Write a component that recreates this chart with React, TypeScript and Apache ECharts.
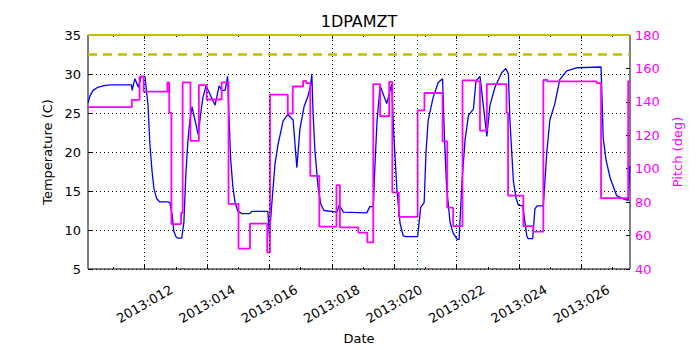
import React, { useEffect, useRef } from "react";
import * as echarts from "echarts";

// Day of year 2013 (fractional) vs temperature (C)
const temperature: [number, number][] = [
  [10.19, 26.3], [10.25, 27.2], [10.35, 27.9], [10.5, 28.3], [10.7, 28.5], [10.9, 28.6],
  [11.58, 28.6], [11.6, 27.9], [11.69, 29.4], [11.8, 28.3], [11.89, 29.7], [12.01, 29.7],
  [12.11, 26], [12.17, 21], [12.24, 17.5], [12.3, 15.3], [12.39, 14], [12.49, 13.6],
  [12.75, 13.6], [12.81, 13.5], [12.88, 12], [12.94, 9.8], [13.01, 9.1], [13.07, 8.95],
  [13.19, 8.95], [13.26, 11], [13.32, 17], [13.39, 21.5], [13.45, 24], [13.52, 25.8],
  [13.72, 22.2], [13.8, 25], [13.87, 27], [13.97, 28.5], [14.26, 26], [14.39, 28.5],
  [14.47, 27.9], [14.58, 27.9], [14.66, 29.7], [14.7, 25], [14.76, 19], [14.83, 15.5],
  [14.9, 13.5], [14.99, 12.4], [15.12, 12.1], [15.37, 12.1], [15.44, 12.4], [15.95, 12.4],
  [16.0, 9.2], [16.09, 14], [16.18, 18.5], [16.28, 21], [16.44, 24], [16.59, 24.8],
  [16.76, 24.1], [16.88, 18], [16.98, 23], [17.11, 25.8], [17.24, 27.2], [17.32, 28.5],
  [17.36, 30], [17.4, 25], [17.46, 20.1], [17.56, 15.5], [17.65, 13.3], [17.75, 12.5],
  [18.16, 12.3], [18.24, 13.2], [18.37, 12.3], [19.12, 12.2], [19.22, 13], [19.33, 13],
  [19.38, 18], [19.45, 24], [19.55, 28.5], [19.76, 26.2], [19.92, 28.7], [19.99, 22],
  [20.09, 15], [20.19, 10.8], [20.29, 9.25], [20.38, 9.15], [20.75, 9.15], [20.85, 12.9],
  [20.96, 13.5], [21.02, 20], [21.09, 24.1], [21.25, 27], [21.41, 28.9], [21.55, 29.4],
  [21.61, 22], [21.68, 15.5], [21.79, 11], [21.89, 9.6], [22.02, 8.8], [22.08, 8.8],
  [22.17, 16], [22.27, 21.5], [22.38, 24.7], [22.54, 25.5], [22.62, 29.1], [22.75, 29.7],
  [22.97, 22], [23.07, 26], [23.23, 28.3], [23.45, 30.2], [23.58, 30.7], [23.66, 30],
  [23.71, 24], [23.82, 16.3], [23.91, 14], [23.98, 13.2], [24.12, 13.1], [24.25, 9.25],
  [24.29, 8.9], [24.44, 8.9], [24.51, 12.7], [24.58, 13.1], [24.78, 13.1], [24.89, 19.9],
  [24.99, 24.1], [25.15, 26.2], [25.31, 29.3], [25.53, 30.4], [25.85, 30.8], [26.63, 30.9],
  [26.7, 21.8], [26.79, 19], [26.92, 16.7], [27.13, 14.4], [27.34, 14], [27.5, 13.8],
  [27.55, 18.2],
];

// Pitch (deg): value holds from this day until the next entry
const pitch: [number, number][] = [
  [10.19, 136.9], [11.59, 141.2], [11.84, 155.1], [11.97, 146.1], [12.73, 151.6],
  [12.79, 133.4], [12.86, 66.9], [13.17, 73.5], [13.22, 151.6], [13.47, 116.7],
  [13.74, 150], [13.99, 141.4], [14.47, 151.6], [14.56, 152], [14.69, 79],
  [15.01, 52.2], [15.38, 67.2], [15.93, 50], [16.02, 144.3], [16.59, 132.9],
  [16.75, 149.2], [17.08, 152.5], [17.18, 151.2], [17.31, 95.7], [17.6, 65.3],
  [18.15, 90.2], [18.26, 64.9], [18.85, 61.8], [19.14, 55.9], [19.33, 150.6],
  [19.55, 131.4], [19.84, 152], [19.94, 85.9], [20.15, 71.2], [20.75, 134.9],
  [20.97, 145.3], [21.55, 116.3], [21.7, 76.7], [21.89, 65.7], [22.19, 152.9],
  [22.64, 152.2], [22.75, 122.8], [22.97, 150.6], [23.6, 133.4], [23.65, 83.9],
  [24.14, 65.7], [24.46, 62.4], [24.78, 153.1], [24.91, 152.2], [26.49, 151.2],
  [26.63, 82.4], [27.5, 152.4], [27.56, 152.4],
];

const majorDays = [12, 14, 16, 18, 20, 22, 24, 26];
const minorDays = [11, 13, 15, 17, 19, 21, 23, 25, 27];
const planningLimit = 35;
const cautionLimit = 32.5;
const markerDay = 20.75;

const X_MIN = 10.186;
const X_MAX = 27.558;
const FONT = "DejaVu Sans";

export default function App() {
  const ref = useRef<HTMLDivElement>(null);
  useEffect(() => {
    if (!ref.current) return;
    const chart = echarts.init(ref.current, undefined, { renderer: "svg" });
    const tickFmt = (v: number) => "2013:" + String(Math.round(v)).padStart(3, "0");
    const baseX = {
      type: "value" as const,
      min: X_MIN,
      max: X_MAX,
      axisLine: { show: false },
      splitLine: { show: false },
      gridIndex: 0,
    };
    const gridDash = [1, 3];
    chart.setOption({
      animation: false,
      title: {
        text: "1DPAMZT",
        left: 359,
        textAlign: "center",
        top: 13,
        padding: 0,
        textStyle: { fontFamily: FONT, fontSize: 16, fontWeight: "normal", color: "#000" },
      },
      grid: {
        left: 88,
        right: 70,
        top: 35,
        bottom: 77,
        show: true,
        borderColor: "#000",
        borderWidth: 1,
        backgroundColor: "transparent",
      },
      xAxis: [
        {
          ...baseX,
          position: "bottom",
          name: "Date",
          nameLocation: "middle",
          nameGap: 63,
          nameTextStyle: { fontFamily: FONT, fontSize: 13, color: "#000" },
          axisTick: { show: true, inside: true, length: 4, customValues: majorDays, lineStyle: { color: "#000" } },
          axisLabel: {
            customValues: majorDays,
            formatter: tickFmt,
            rotate: 30,
            align: "center",
            verticalAlign: "middle",
            margin: 35,
            fontFamily: FONT,
            fontSize: 13,
            color: "#000",
          },
        },
        {
          ...baseX,
          position: "bottom",
          axisTick: { show: true, inside: true, length: 2, customValues: minorDays, lineStyle: { color: "#000" } },
          axisLabel: { show: false },
        },
        {
          ...baseX,
          position: "top",
          axisTick: { show: true, inside: true, length: 4, customValues: majorDays, lineStyle: { color: "#000" } },
          axisLabel: { show: false },
        },
        {
          ...baseX,
          position: "top",
          axisTick: { show: true, inside: true, length: 2, customValues: minorDays, lineStyle: { color: "#000" } },
          axisLabel: { show: false },
        },
      ],
      yAxis: [
        {
          type: "value",
          min: 5,
          max: 35,
          interval: 5,
          position: "left",
          name: "Temperature (C)",
          nameLocation: "middle",
          nameRotate: 90,
          nameGap: 27,
          nameTextStyle: { fontFamily: FONT, fontSize: 13, color: "#000" },
          axisLine: { show: false },
          axisTick: { show: true, inside: true, length: 4, lineStyle: { color: "#000" } },
          axisLabel: { fontFamily: FONT, fontSize: 13, color: "#000", margin: 7 },
          splitLine: { show: true, lineStyle: { color: "#000", type: gridDash, width: 1 } },
        },
        {
          type: "value",
          min: 40,
          max: 180,
          interval: 20,
          position: "right",
          name: "Pitch (deg)",
          nameLocation: "middle",
          nameRotate: 90,
          nameGap: 30,
          nameTextStyle: { fontFamily: FONT, fontSize: 13, color: "#FF00FF" },
          axisLine: { show: false },
          axisTick: { show: true, inside: true, length: 4, lineStyle: { color: "#000" } },
          axisLabel: { fontFamily: FONT, fontSize: 13, color: "#FF00FF", margin: 5 },
          splitLine: { show: false },
        },
      ],
      series: [
        {
          type: "line",
          xAxisIndex: 0,
          yAxisIndex: 0,
          data: temperature,
          symbol: "none",
          z: 2,
          lineStyle: { color: "#0000FF", width: 1.3 },
          markLine: {
            silent: true,
            symbol: ["none", "none"],
            label: { show: false },
            animation: false,
            data: [
              ...majorDays.map((d) => ({
                xAxis: d,
                lineStyle: { color: "#000", type: gridDash, width: 1 },
              })),
              { yAxis: planningLimit, lineStyle: { color: "#BFBF00", type: "solid", width: 2 } },
              { yAxis: cautionLimit, lineStyle: { color: "#BFBF00", type: [9, 6], width: 2.5 } },
              { xAxis: markerDay, lineStyle: { color: "#008000", type: [1, 3], width: 1 } },
            ],
          },
        },
        {
          type: "line",
          xAxisIndex: 0,
          yAxisIndex: 1,
          data: pitch,
          step: "end",
          symbol: "none",
          z: 3,
          lineStyle: { color: "#FF00FF", width: 1.8 },
        },
      ],
    });
    return () => chart.dispose();
  }, []);
  return (
    <div
      ref={ref}
      style={{ width: 700, height: 350, position: "fixed", left: 0, top: 0, background: "#fff" }}
    />
  );
}
